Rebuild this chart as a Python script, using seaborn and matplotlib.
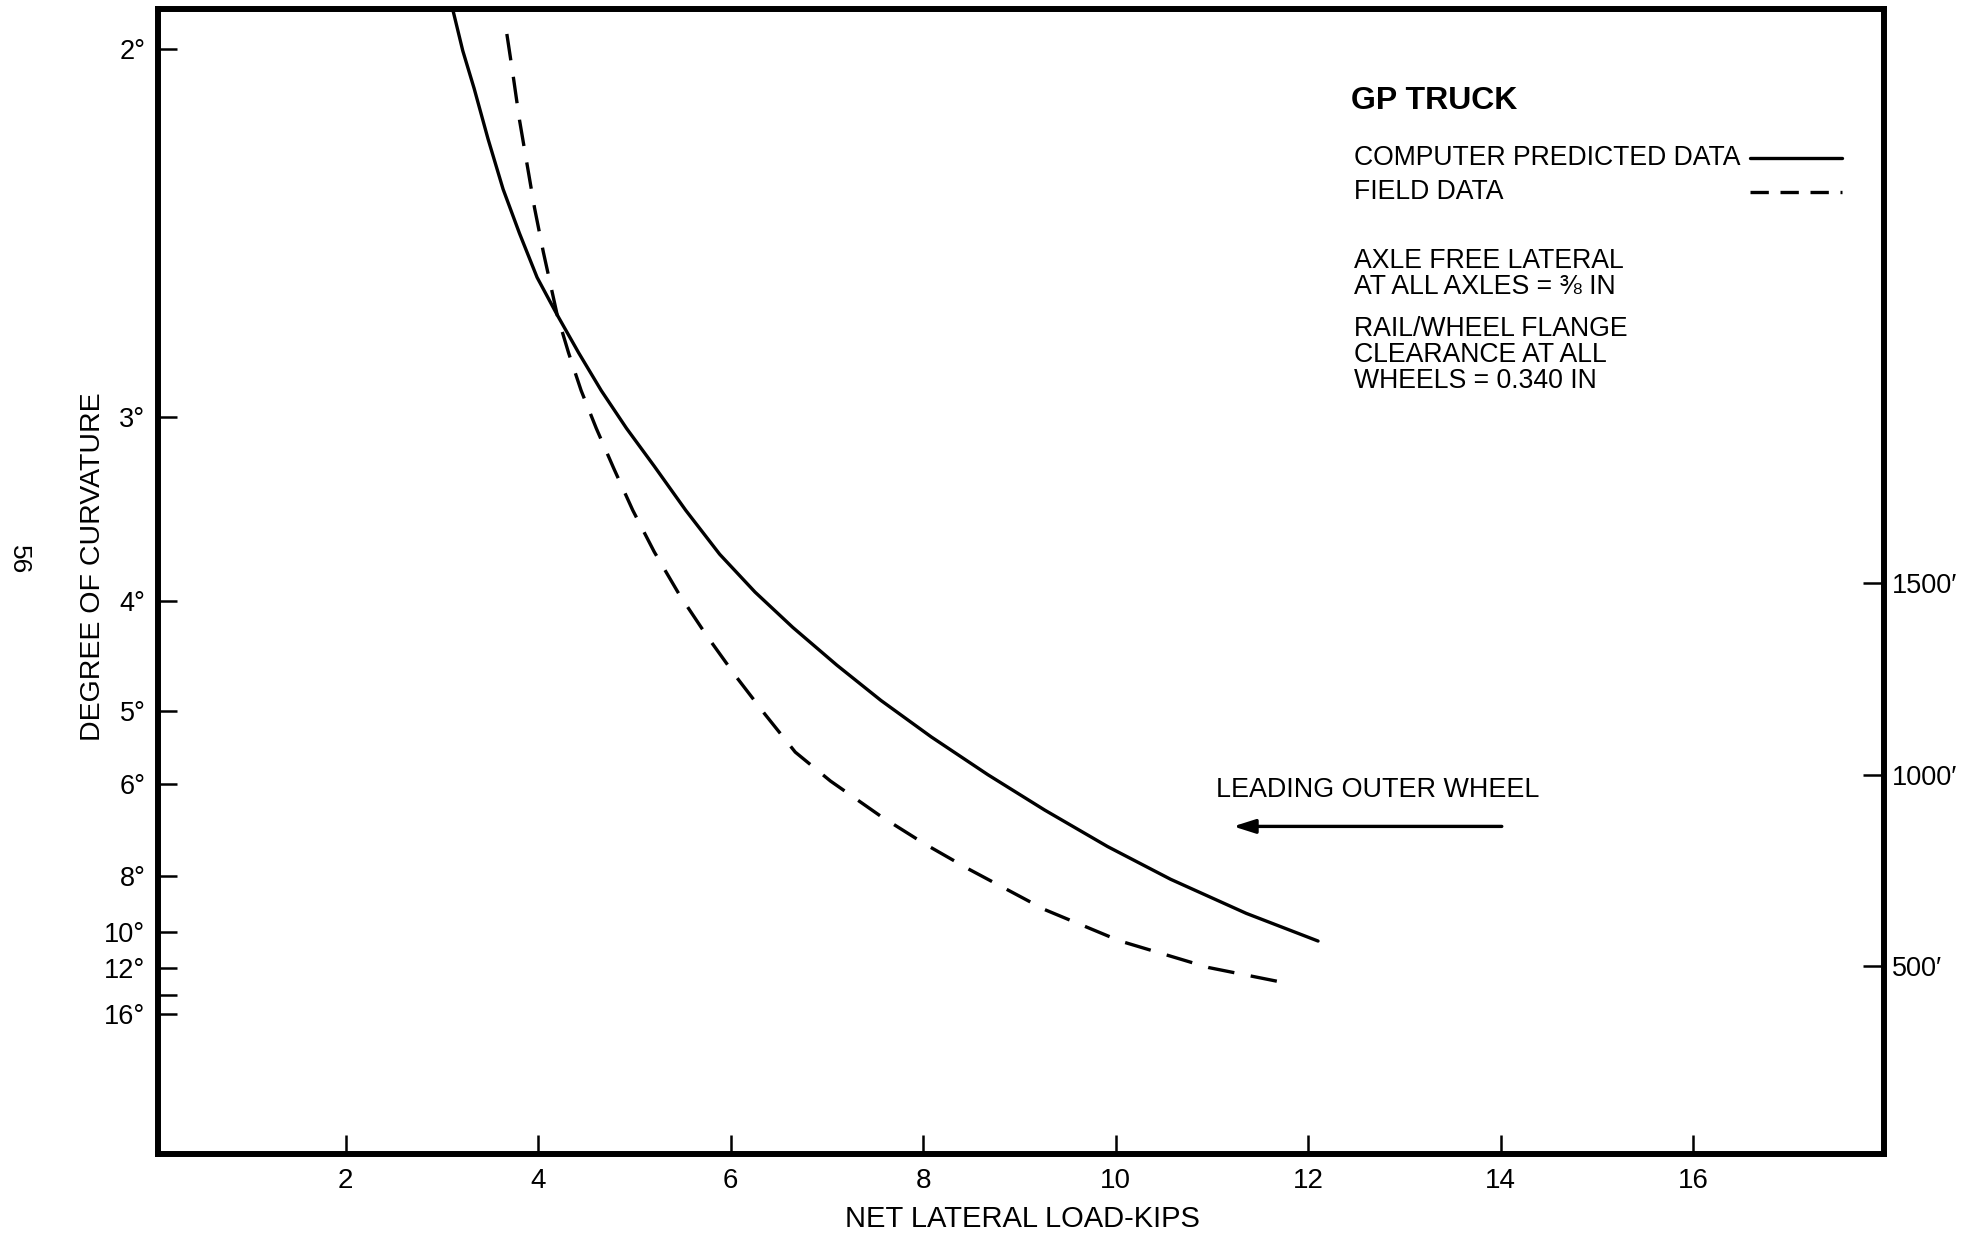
import matplotlib
matplotlib.use("Agg")
import matplotlib.pyplot as plt
import pandas as pd
import seaborn as sns

# ---------------- data ----------------
# Computer predicted data: net lateral load (kips) vs degree of curvature
load_predicted = [3.111, 3.216, 3.334, 3.478, 3.635, 3.805, 3.988, 4.197,
                  4.420, 4.655, 4.917, 5.205, 5.532, 5.885, 6.252, 6.644,
                  7.102, 7.560, 8.084, 8.672, 9.261, 9.915, 10.570, 11.355,
                  12.101]
deg_predicted = [1.930, 2.003, 2.074, 2.177, 2.291, 2.401, 2.522, 2.635,
                 2.760, 2.897, 3.048, 3.216, 3.437, 3.690, 3.939, 4.204,
                 4.530, 4.884, 5.314, 5.846, 6.449, 7.220, 8.086, 9.239,
                 10.451]

# Field data
load_field = [3.674, 3.739, 3.805, 3.883, 3.962, 4.053, 4.197, 4.315, 4.446,
              4.603, 4.786, 4.982, 5.205, 5.466, 5.754, 6.055, 6.356, 6.670,
              7.036, 7.560, 8.017, 8.475, 9.260, 10.045, 10.961, 11.746]
deg_field = [1.973, 2.049, 2.137, 2.232, 2.337, 2.451, 2.635, 2.760, 2.897,
             3.048, 3.228, 3.437, 3.675, 3.957, 4.276, 4.639, 5.039, 5.515,
             5.945, 6.570, 7.161, 7.799, 9.094, 10.451, 11.948, 13.014]

x_ticks = [2, 4, 6, 8, 10, 12, 14, 16]
left_tick_degrees = [2, 3, 4, 5, 6, 8, 10, 12, 14, 16]
left_tick_labels = ["2°", "3°", "4°", "5°", "6°", "8°", "10°", "12°", "", "16°"]
right_ticks = [500, 1000, 1500]
right_tick_labels = ["500′", "1000′", "1500′"]

legend_title = "GP TRUCK"
series_names = ["COMPUTER PREDICTED DATA", "FIELD DATA"]
note_lines = ["AXLE FREE LATERAL", "AT ALL AXLES = ⅜ IN",
              "RAIL/WHEEL FLANGE", "CLEARANCE AT ALL", "WHEELS = 0.340 IN"]
arrow_label = "LEADING OUTER WHEEL"

# radius of curve (ft) = 5730 / degree of curvature
FT_DEG = 5730.0

df_pred = pd.DataFrame({"load": load_predicted,
                        "radius": [FT_DEG / d for d in deg_predicted]})
df_field = pd.DataFrame({"load": load_field,
                         "radius": [FT_DEG / d for d in deg_field]})

# ---------------- style ----------------
sns.set_theme(style="white")
plt.rcParams["font.family"] = ["Liberation Sans", "DejaVu Sans"]
plt.rcParams["text.color"] = "black"
plt.rcParams["axes.labelcolor"] = "black"
plt.rcParams["xtick.color"] = "black"
plt.rcParams["ytick.color"] = "black"

fig = plt.figure(figsize=(19.75, 12.36), dpi=100)
ax = fig.add_axes([0.0800, 0.0663, 0.8739, 0.9264])

sns.lineplot(data=df_pred, x="load", y="radius", ax=ax, color="black",
             linewidth=2.4, sort=False, estimator=None)
sns.lineplot(data=df_field, x="load", y="radius", ax=ax, color="black",
             linewidth=2.4, sort=False, estimator=None,
             linestyle=(0, (8, 5)))

ax.set_xlim(0.05, 17.98)
ax.set_ylim(-5, 2969)

ax.set_xticks(x_ticks)
ax.set_xticklabels([str(v) for v in x_ticks], fontsize=20)
ax.set_yticks([FT_DEG / d for d in left_tick_degrees])
ax.set_yticklabels(left_tick_labels, fontsize=19.5)
ax.tick_params(axis="both", direction="in", length=14, width=1.8,
               colors="black", labelcolor="black",
               bottom=True, left=True, top=False, right=False)
ax.tick_params(axis="y", pad=9)
ax.tick_params(axis="x", pad=10)
ax.set_xlabel("")
ax.set_ylabel("")

for sp in ax.spines.values():
    sp.set_visible(True)
    sp.set_color("black")
    sp.set_linewidth(4.3)

ax2 = ax.twinx()
ax2.set_ylim(9, 2999)
ax2.set_yticks(right_ticks)
ax2.set_yticklabels(right_tick_labels, fontsize=19.5)
ax2.tick_params(axis="y", direction="in", length=15, width=1.8,
                colors="black", labelcolor="black", pad=6,
                right=True, left=False)
for sp in ax2.spines.values():
    sp.set_visible(False)
ax2.grid(False)
ax.grid(False)

# axis titles
fig.text(1022 / 1975, 1 - 1219 / 1236, "NET LATERAL LOAD-KIPS", fontsize=21,
         ha="center", va="center")
fig.text(93 / 1975, 1 - 567 / 1236, "DEGREE OF CURVATURE", fontsize=20.5,
         ha="center", va="center", rotation=90)
# page number
fig.text(19 / 1975, 1 - 560 / 1236, "56", fontsize=19, ha="center",
         va="center", rotation=-90)

# legend block (manual: text left, line sample right)
txt_x = 12.47
ax.text(12.44, 2730, legend_title, fontsize=23, fontweight="bold",
        ha="left", va="center")
ax.text(txt_x, 2583, series_names[0], fontsize=19.2, ha="left", va="center")
ax.text(txt_x, 2495, series_names[1], fontsize=19.2, ha="left", va="center")
ax.plot([16.59, 17.54], [2583, 2583], color="black", linewidth=2.4)
ax.plot([16.59, 17.54], [2495, 2495], color="black", linewidth=2.4,
        linestyle=(0, (5.5, 3.5)))
for yv, line in zip([2315, 2246, 2138, 2070, 2004], note_lines):
    ax.text(txt_x, yv, line, fontsize=19.2, ha="left", va="center")

# arrow annotation
ax.text(11.04, 941, arrow_label, fontsize=19.4, ha="left", va="center")
ax.annotate("", xy=(11.22, 846), xytext=(14.01, 846),
            arrowprops=dict(arrowstyle="-|>,head_length=1.1,head_width=0.35",
                            color="black", lw=2.4, shrinkA=0, shrinkB=0))

fig.savefig("out.png", dpi=100, facecolor="white")
